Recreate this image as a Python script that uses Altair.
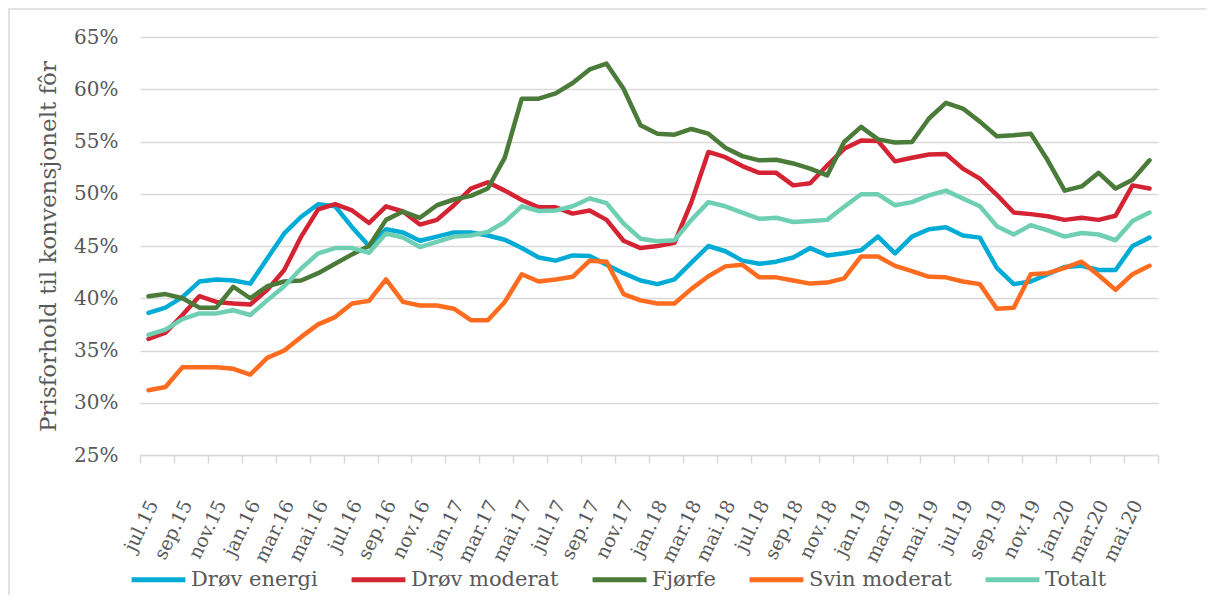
import altair as alt
import pandas as pd

months = ["jul.15", "aug.15", "sep.15", "okt.15", "nov.15", "des.15",
          "jan.16", "feb.16", "mar.16", "apr.16", "mai.16", "jun.16",
          "jul.16", "aug.16", "sep.16", "okt.16", "nov.16", "des.16",
          "jan.17", "feb.17", "mar.17", "apr.17", "mai.17", "jun.17",
          "jul.17", "aug.17", "sep.17", "okt.17", "nov.17", "des.17",
          "jan.18", "feb.18", "mar.18", "apr.18", "mai.18", "jun.18",
          "jul.18", "aug.18", "sep.18", "okt.18", "nov.18", "des.18",
          "jan.19", "feb.19", "mar.19", "apr.19", "mai.19", "jun.19",
          "jul.19", "aug.19", "sep.19", "okt.19", "nov.19", "des.19",
          "jan.20", "feb.20", "mar.20", "apr.20", "mai.20", "jun.20"]

drov_energi = [38.6, 39.1, 40.1, 41.6, 41.8, 41.7, 41.4, 43.8, 46.2, 47.8,
               49.0, 48.8, 46.8, 45.0, 46.6, 46.3, 45.5, 45.9, 46.3, 46.3,
               46.0, 45.6, 44.8, 43.9, 43.6, 44.1, 44.05, 43.2, 42.4, 41.7,
               41.35, 41.8, 43.4, 45.0, 44.5, 43.6, 43.3, 43.5, 43.9, 44.8,
               44.1, 44.3, 44.6, 45.9, 44.3, 45.9, 46.6, 46.8, 46.0, 45.8,
               42.9, 41.35, 41.6, 42.3, 43.0, 43.1, 42.7, 42.7, 45.0, 45.8]

drov_moderat = [36.1, 36.7, 38.4, 40.2, 39.65, 39.5, 39.4, 40.8, 42.7, 45.9,
                48.5, 49.0, 48.4, 47.2, 48.8, 48.3, 47.05, 47.5, 48.9, 50.5,
                51.1, 50.3, 49.4, 48.7, 48.7, 48.1, 48.4, 47.5, 45.5, 44.8,
                45.0, 45.3, 49.2, 54.0, 53.5, 52.65, 52.0, 52.0, 50.8, 51.0,
                52.7, 54.3, 55.1, 55.05, 53.1, 53.45, 53.75, 53.8, 52.4, 51.45,
                49.9, 48.2, 48.05, 47.85, 47.5, 47.7, 47.5, 47.9, 50.8, 50.5]

fjorfe = [40.2, 40.4, 40.0, 39.1, 39.1, 41.1, 40.0, 41.15, 41.6, 41.7,
          42.4, 43.3, 44.2, 45.0, 47.5, 48.3, 47.7, 48.9, 49.45, 49.8,
          50.5, 53.45, 59.1, 59.1, 59.6, 60.6, 61.9, 62.45, 60.05, 56.55,
          55.75, 55.65, 56.2, 55.75, 54.4, 53.6, 53.2, 53.25, 52.9, 52.4,
          51.75, 54.95, 56.4, 55.2, 54.9, 54.95, 57.2, 58.7, 58.15, 56.9,
          55.5, 55.6, 55.75, 53.2, 50.3, 50.7, 52.0, 50.5, 51.35, 53.2]

svin_moderat = [31.2, 31.5, 33.4, 33.4, 33.4, 33.25, 32.7, 34.3, 35.0, 36.3,
                37.5, 38.2, 39.5, 39.75, 41.8, 39.65, 39.3, 39.3, 39.0, 37.9,
                37.9, 39.65, 42.3, 41.6, 41.8, 42.05, 43.6, 43.5, 40.4, 39.8,
                39.5, 39.5, 40.9, 42.1, 43.05, 43.2, 42.0, 42.0, 41.7, 41.4,
                41.5, 41.9, 44.0, 44.0, 43.1, 42.6, 42.05, 42.0, 41.6, 41.35,
                39.0, 39.1, 42.3, 42.4, 42.9, 43.5, 42.2, 40.8, 42.3, 43.1]

totalt = [36.5, 37.0, 38.0, 38.55, 38.55, 38.85, 38.4, 39.8, 41.15, 42.85,
          44.3, 44.8, 44.8, 44.35, 46.2, 45.8, 44.9, 45.4, 45.9, 46.0,
          46.35, 47.3, 48.8, 48.35, 48.4, 48.8, 49.55, 49.1, 47.15, 45.7,
          45.45, 45.55, 47.5, 49.2, 48.8, 48.2, 47.6, 47.7, 47.3, 47.4,
          47.5, 48.75, 49.95, 49.95, 48.9, 49.2, 49.85, 50.3, 49.55, 48.8,
          46.9, 46.1, 47.0, 46.5, 45.9, 46.25, 46.1, 45.55, 47.4, 48.2]

series_names = ["Drøv energi", "Drøv moderat", "Fjørfe", "Svin moderat", "Totalt"]
series_values = [drov_energi, drov_moderat, fjorfe, svin_moderat, totalt]
series_colors = ["#00ACD6", "#D42433", "#4A7B39", "#FF6B1F", "#6FCFB2"]
y_ticks = [25, 30, 35, 40, 45, 50, 55, 60, 65]

rows = []
for name, vals in zip(series_names, series_values):
    for i, (m, v) in enumerate(zip(months, vals)):
        rows.append({"serie": name, "idx": i, "maaned": m, "verdi": v})
df = pd.DataFrame(rows)

FONT = "DejaVu Serif"
GREY = "#595959"
LINE = "#d9d9d9"
W, H = 1018, 418

label_arr = "[" + ",".join("'" + m + "'" for m in months) + "]"
n = len(months)
tick_vals = [k - 0.5 for k in range(0, n + 1, 2)]

x_axis = alt.Axis(
    values=tick_vals,
    labelExpr=f"datum.value < {n - 1} ? {label_arr}[round(datum.value + 0.5)] : ''",
    labelOffset=13, labelAngle=296, labelAlign="right", labelBaseline="middle",
    labelPadding=38, labelFont=FONT, labelFontSize=19, labelColor=GREY,
    labelOverlap=False, labelBound=False, labelFlush=False,
    grid=False, domainColor=LINE, domainWidth=1.5,
    tickColor=LINE, tickWidth=1.5, tickSize=8, title=None,
)

y_axis = alt.Axis(
    values=y_ticks, labelExpr="datum.value + '%'",
    grid=True, gridColor=LINE, gridWidth=1.5, domain=False, ticks=False,
    labelPadding=22, labelFont=FONT, labelFontSize=20, labelColor=GREY,
    title="Prisforhold til konvensjonelt fôr", titleFont=FONT, titleFontSize=23,
    titleColor=GREY, titleFontWeight="normal", titleAngle=270,
    titleX=-92, titleY=H / 2, titleAlign="center", titleBaseline="middle",
)

legend = alt.Legend(
    orient="none", legendX=-11, legendY=513, direction="horizontal", columns=5,
    title=None, symbolType="stroke", symbolSize=2900, symbolStrokeWidth=5,
    labelFont=FONT, labelFontSize=21, labelColor=GREY, labelOffset=3,
    columnPadding=23,
)

lines = alt.Chart(df).mark_line(strokeWidth=4.5, strokeJoin="round", strokeCap="round").encode(
    x=alt.X("idx:Q", scale=alt.Scale(domain=[-0.5, n - 0.5], nice=False, zero=False), axis=x_axis),
    y=alt.Y("verdi:Q", scale=alt.Scale(domain=[25, 65], nice=False, zero=False), axis=y_axis),
    color=alt.Color("serie:N", scale=alt.Scale(domain=series_names, range=series_colors), legend=legend),
    detail="serie:N",
)

border = alt.Chart(alt.Data(values=[{"b": 1}])).mark_rect(
    fillOpacity=0, stroke=LINE, strokeWidth=1.5
).encode(
    x=alt.value(-131), x2=alt.value(W + 90), y=alt.value(-28), y2=alt.value(H + 200),
)

chart = alt.layer(border, lines).properties(
    width=W, height=H, autosize="none",
    padding={"left": 132, "top": 29, "right": 48, "bottom": 140},
).configure_view(strokeWidth=0)

chart.save("out.html", embed_options={"renderer": "svg", "actions": False})
